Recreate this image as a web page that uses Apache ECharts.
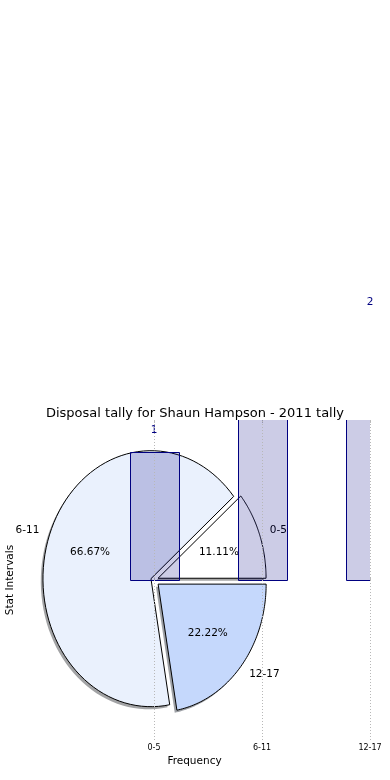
<!DOCTYPE html>
<html>
<head>
<meta charset="utf-8">
<script src="https://cdn.jsdelivr.net/npm/echarts@6/dist/echarts.min.js"></script>
<style>html,body{margin:0;padding:0;background:#fff;}#c{width:390px;height:780px;}</style>
</head>
<body>
<div id="c"></div>
<script>
const categories = ['0-5', '6-11', '12-17'];
const categoryPositions = [0, 1, 2];
const barValues = [1, 6, 2];
const pieValues = [1, 6, 2];
const pieExplode = [0.04, 0.03, 0.05];
const pieColors = ['#ffffff', '#eaf1fd', '#c5d8fc'];
const titleText = 'Disposal tally for Shaun Hampson - 2011 tally';
const xAxisName = 'Frequency';
const yAxisName = 'Stat Intervals';

const FONT = 'DejaVu Sans';
const chart = echarts.init(document.getElementById('c'), null, {renderer: 'canvas'});

function shadowColor(hex) {
  const r = parseInt(hex.slice(1, 3), 16), g = parseInt(hex.slice(3, 5), 16), b = parseInt(hex.slice(5, 7), 16);
  return 'rgba(' + Math.round(r * 0.3) + ',' + Math.round(g * 0.3) + ',' + Math.round(b * 0.3) + ',0.5)';
}

function renderPie(params, api) {
  const total = pieValues.reduce((a, b) => a + b, 0);
  const shadows = [], wedges = [], texts = [];
  let a0 = 0;
  const N = 80;
  for (let i = 0; i < pieValues.length; i++) {
    const a1 = a0 + 360 * pieValues[i] / total;
    const mid = (a0 + a1) / 2 * Math.PI / 180;
    const cx = pieExplode[i] * Math.cos(mid), cy = pieExplode[i] * Math.sin(mid);
    const pts = [api.coord([cx, cy])], spts = [api.coord([cx - 0.02, cy - 0.02])];
    for (let k = 0; k <= N; k++) {
      const t = (a0 + (a1 - a0) * k / N) * Math.PI / 180;
      pts.push(api.coord([cx + Math.cos(t), cy + Math.sin(t)]));
      spts.push(api.coord([cx - 0.02 + Math.cos(t), cy - 0.02 + Math.sin(t)]));
    }
    shadows.push({type: 'polygon', shape: {points: spts}, style: {fill: shadowColor(pieColors[i]), stroke: null}});
    wedges.push({type: 'polygon', shape: {points: pts}, style: {fill: pieColors[i], stroke: '#000', lineWidth: 1, lineJoin: 'miter'}});
    const lp = api.coord([cx + 1.1 * Math.cos(mid), cy + 1.1 * Math.sin(mid)]);
    texts.push({type: 'text', x: lp[0], y: lp[1], style: {text: categories[i], fill: '#000', font: '10.5px "' + FONT + '"', align: Math.cos(mid) >= 0 ? 'left' : 'right', verticalAlign: 'middle'}});
    const pp = api.coord([cx + 0.6 * Math.cos(mid), cy + 0.6 * Math.sin(mid)]);
    texts.push({type: 'text', x: pp[0], y: pp[1], style: {text: (100 * pieValues[i] / total).toFixed(2) + '%', fill: '#000', font: '10.5px "' + FONT + '"', align: 'center', verticalAlign: 'middle'}});
    a0 = a1;
  }
  return {type: 'group', children: shadows.concat(wedges, texts)};
}

function renderBar(params, api) {
  const x = api.value(0), v = api.value(1);
  const p0 = api.coord([x - 0.225, v]);
  const p1 = api.coord([x + 0.225, 0]);
  return {type: 'rect', shape: {x: Math.round(p0[0]) + 0.5, y: Math.round(p0[1]) + 0.5, width: Math.round(p1[0] - p0[0]), height: Math.round(p1[1] - p0[1])},
    style: {fill: 'rgba(0,0,128,0.2)', stroke: '#000080', lineWidth: 1}};
}

function renderBarLabel(params, api) {
  const x = api.value(0), v = api.value(1);
  const p = api.coord([x, v]);
  return {type: 'text', x: p[0], y: p[1] - 22, style: {text: String(v), fill: '#000080', font: '10.5px "' + FONT + '"', align: 'center', verticalAlign: 'middle'}};
}

const option = {
  animation: false,
  backgroundColor: '#fff',
  title: {text: titleText, left: 'center', top: 402, textStyle: {fontFamily: FONT, fontSize: 13, fontWeight: 'normal', color: '#000'}},
  grid: {left: 19, right: 20, top: 420, bottom: 40, containLabel: false, outerBoundsMode: 'none'},
  xAxis: [{
    type: 'value', min: -1.25, max: 2, position: 'bottom',
    name: xAxisName, nameLocation: 'middle', nameGap: 16,
    nameTextStyle: {fontFamily: FONT, fontSize: 10.5, color: '#000'},
    axisLine: {show: false}, splitLine: {show: false},
    axisTick: {show: true, inside: true, length: 3, customValues: categoryPositions, lineStyle: {color: '#bbb'}},
    axisLabel: {show: true, customValues: categoryPositions, margin: 4, fontFamily: FONT, fontSize: 8, color: '#000',
      formatter: v => categories[categoryPositions.indexOf(v)] || ''}
  }, {
    type: 'value', min: -1.25, max: 2, position: 'top',
    axisLine: {show: false}, splitLine: {show: false}, axisLabel: {show: false},
    axisTick: {show: true, inside: true, length: 3, customValues: categoryPositions, lineStyle: {color: '#bbb'}}
  }],
  yAxis: {
    type: 'value', min: -1.25, max: 1.25,
    name: yAxisName, nameLocation: 'middle', nameGap: 3, nameRotate: 90,
    nameTextStyle: {fontFamily: FONT, fontSize: 10.5, color: '#000'},
    axisLine: {show: false}, axisTick: {show: false}, axisLabel: {show: false}, splitLine: {show: false}
  },
  series: [
    {type: 'custom', name: 'pie', xAxisIndex: 0, renderItem: renderPie, data: [[0, 0]], clip: false, z: 1, silent: true},
    {type: 'custom', name: 'bars', xAxisIndex: 0, renderItem: renderBar, data: barValues.map((v, i) => [categoryPositions[i], v]), clip: true, z: 2, silent: true},
    {type: 'line', name: 'grid', xAxisIndex: 0, data: [], z: 3, silent: true,
      markLine: {silent: true, symbol: 'none', label: {show: false}, animation: false,
        lineStyle: {color: '#b8b8b8', width: 1, type: [1, 2]},
        data: categoryPositions.map(v => ({xAxis: v}))}},
    {type: 'custom', name: 'barLabels', xAxisIndex: 0, renderItem: renderBarLabel, data: barValues.map((v, i) => [categoryPositions[i], v]), clip: false, z: 4, silent: true}
  ]
};
chart.setOption(option);
</script>
</body>
</html>
